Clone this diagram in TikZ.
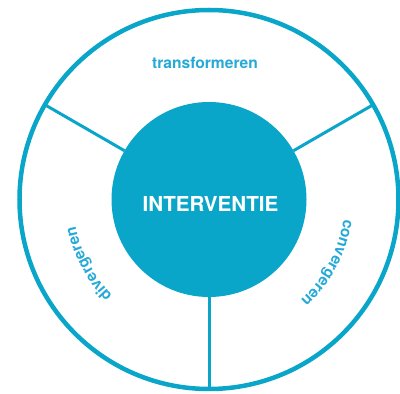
\documentclass[tikz,border=0pt]{standalone}
\usepackage{fontspec}
\setmainfont{TeX Gyre Heros}
\usetikzlibrary{decorations.text}
\definecolor{ring}{HTML}{0AA6C9}
\definecolor{lbl}{HTML}{26A9D6}
\newcommand{\lblfont}{\fontsize{15.6}{18}\selectfont\bfseries\color{lbl}}
\begin{document}
\begin{tikzpicture}[x=1pt,y=1pt,
  rimstyle/.style={circle, draw=ring, line width=4.5pt, minimum size=379pt, inner sep=0pt, outer sep=0pt},
  hubstyle/.style={circle, fill=ring, minimum size=195pt, inner sep=0pt, outer sep=0pt},
  spoke/.style={draw=ring, line width=3pt},
  lbltext/.style={font=\lblfont, text=lbl, inner sep=0pt}]
\useasboundingbox (0,0) rectangle (400,394);
\coordinate (C) at (209,194.5);
\node[rimstyle] (rim) at (C) {};
\node[hubstyle] (hub) at (C) {};
\draw[spoke] (hub.30) -- (rim.30);
\draw[spoke] (hub.150) -- (rim.150);
\draw[spoke] (hub.270) -- (rim.270);
\node[font=\fontsize{20.6}{24}\selectfont\bfseries, text=white, anchor=base, inner sep=0pt] (interv) at (210.5,182) {INTERVENTIE};
\node[lbltext, anchor=base] (trans) at (205,325) {transformeren};
\path[decorate, decoration={text along path, text={|\lblfont|divergeren}, text align=center}]
  ([shift={(240:136)}]C) arc[start angle=240, end angle=176, radius=136];
\path[decorate, decoration={text along path, text={|\lblfont|convergeren}, text align=center}]
  ([shift={(4:136)}]C) arc[start angle=4, end angle=-60, radius=136];
\end{tikzpicture}
\end{document}
